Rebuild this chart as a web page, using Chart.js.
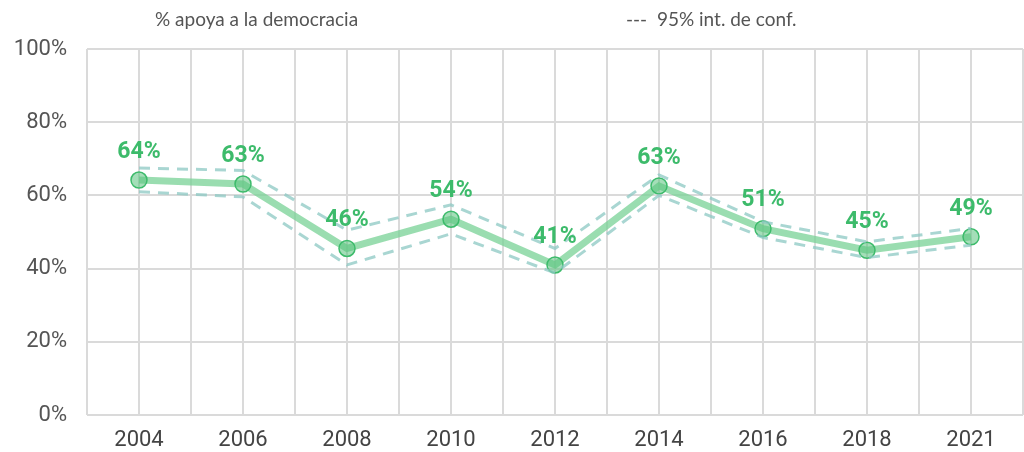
<!DOCTYPE html>
<html>
<head>
<meta charset="utf-8">
<script src="https://cdn.jsdelivr.net/npm/chart.js@4/dist/chart.umd.min.js"></script>
<style>
  html, body { margin: 0; padding: 0; background: #fff; }
  #wrap { position: relative; width: 1024px; height: 452px; }
  .leg { position: absolute; top: 7px; font-family: Lato, sans-serif; font-size: 19px; color: #555; line-height: 24px; }
</style>
</head>
<body>
<div id="wrap">
  <canvas id="chart" width="1024" height="452"></canvas>
  <div class="leg" style="left:155px">% apoya a la democracia</div>
  <div class="leg" style="left:626px">---&nbsp; 95% int. de conf.</div>
</div>
<script>
// Datos
const years = ['2004', '2006', '2008', '2010', '2012', '2014', '2016', '2018', '2021'];
const apoyo = [64.2, 63.1, 45.5, 53.5, 41.0, 62.6, 50.9, 45.0, 48.7];
const ciUpper = [67.5, 66.8, 50.5, 57.4, 45.5, 65.6, 52.8, 47.3, 51.0];
const ciLower = [61.0, 59.6, 41.0, 49.5, 38.8, 60.0, 48.5, 43.0, 46.4];
const yTicks = [0, 20, 40, 60, 80, 100];

const green = '#3dbb6b';
const ciColor = 'rgba(140, 200, 195, 0.75)';
const gridColor = '#dadada';

// Etiquetas de valor encima de cada punto
const labelPlugin = {
    id: 'valueLabels',
    afterDatasetsDraw(chart) {
        const ctx = chart.ctx;
        const meta = chart.getDatasetMeta(2);
        ctx.save();
        ctx.font = 'bold 23px Roboto, sans-serif';
        ctx.fillStyle = green;
        ctx.textAlign = 'center';
        ctx.textBaseline = 'middle';
        meta.data.forEach((pt, i) => {
            ctx.fillText(Math.round(apoyo[i]) + '%', pt.x, pt.y - 28);
        });
        ctx.restore();
    }
};

const noPad = s => { s.paddingLeft = 0; s.paddingRight = 0; };

new Chart(document.getElementById('chart').getContext('2d'), {
    type: 'line',
    data: {
        labels: years,
        datasets: [
            { data: ciUpper, borderColor: ciColor, borderWidth: 3, borderDash: [11, 8], pointRadius: 0, fill: false, tension: 0 },
            { data: ciLower, borderColor: ciColor, borderWidth: 3, borderDash: [11, 8], pointRadius: 0, fill: false, tension: 0 },
            { data: apoyo, borderColor: 'rgba(120, 210, 150, 0.75)', borderWidth: 7, pointRadius: 8,
              pointBackgroundColor: 'rgba(90, 195, 125, 0.55)', pointBorderColor: green, pointBorderWidth: 1.5, tension: 0 }
        ]
    },
    options: {
        responsive: false,
        animation: false,
        plugins: { legend: { display: false }, tooltip: { enabled: false } },
        layout: { autoPadding: false, padding: { top: 49, right: 1, left: 0, bottom: 0 } },
        scales: {
            x: {
                type: 'category',
                offset: true,
                grid: { offset: false, color: gridColor, lineWidth: 2, drawTicks: false },
                border: { display: false },
                ticks: { color: '#444', font: { family: 'Roboto', size: 22 }, padding: 12 },
                afterFit: s => { s.height = 37; noPad(s); }
            },
            x2: {
                type: 'category',
                labels: years,
                position: 'bottom',
                offset: true,
                grid: { offset: true, color: gridColor, lineWidth: 2, drawTicks: false },
                border: { display: false },
                ticks: { display: false },
                afterFit: s => { s.height = 0; noPad(s); }
            },
            y: {
                min: 0, max: 100,
                afterBuildTicks: s => { s.ticks = yTicks.map(v => ({ value: v })); },
                grid: { color: gridColor, lineWidth: 2, drawTicks: false },
                border: { display: false },
                ticks: { color: '#555', font: { family: 'Roboto', size: 22 }, padding: 20, callback: v => v + '%' },
                afterFit: s => { s.width = 87; }
            }
        }
    },
    plugins: [labelPlugin]
});
</script>
</body>
</html>
